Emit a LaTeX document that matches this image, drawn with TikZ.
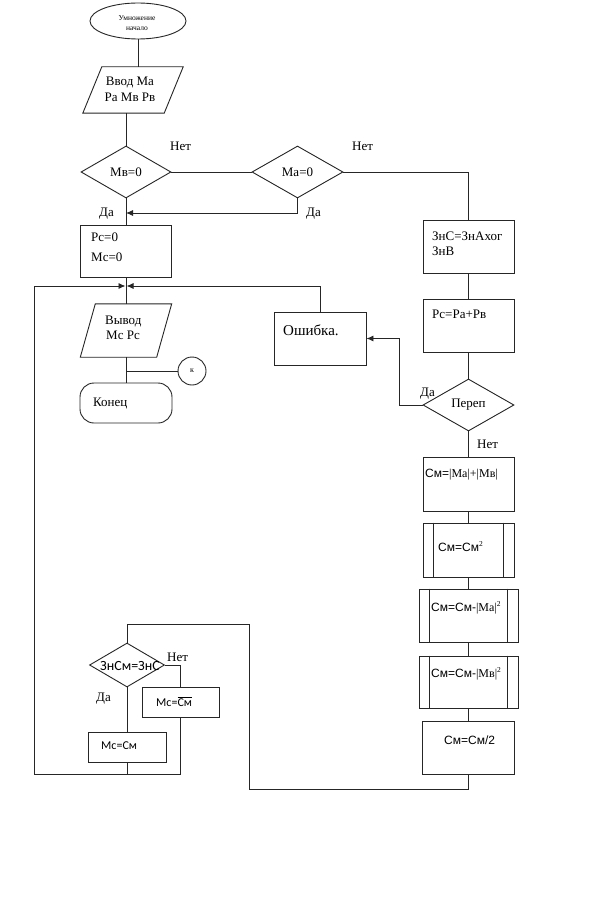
\documentclass[tikz,border=0pt]{standalone}
\usepackage{fontspec}
\setmainfont{Liberation Serif}
\newfontfamily\arialf{Liberation Sans}
\newfontfamily\calib{Carlito}
\usetikzlibrary{shapes.geometric,arrows.meta,calc}
\begin{document}
\begin{tikzpicture}[x=1pt,y=-1pt,
  ln/.style={draw=black!85,line width=0.9pt},
  arr/.style={ln,-{Latex[length=7pt,width=6pt]}},
  blk/.style={rectangle,ln,inner sep=0pt},
  hlp/.style={rectangle,inner sep=0pt},
  dec/.style={diamond,ln,inner sep=0pt,font=\fontsize{13}{15}\selectfont},
  txt/.style={inner sep=0pt,anchor=base west,font=\fontsize{13}{15}\selectfont},
  ctx/.style={inner sep=0pt,anchor=base,font=\fontsize{13}{15}\selectfont},
  atx/.style={inner sep=0pt,anchor=base west,font=\arialf\fontsize{12}{14}\selectfont},
  ctxs/.style={inner sep=0pt,anchor=base west,font=\calib\fontsize{12}{13}\selectfont}
]
\useasboundingbox[fill=white] (0,0) rectangle (593,912);

% start ellipse
\node[ellipse,ln,minimum width=96,minimum height=36,inner sep=0pt] (start) at (138,21) {};
\node[inner sep=0pt,align=center,font=\fontsize{7.5}{10}\selectfont] (startt) at (137,23) {Умножение\\начало};

% input parallelogram
\node[hlp,minimum width=100,minimum height=46] (inp) at (133,90) {};
\draw[ln] (inp.south west) -- ([xshift=19pt]inp.north west) -- (inp.north east) -- ([xshift=-19pt]inp.south east) -- cycle;
\node[ctx] (inpt1) at (130,86) {Ввод Ма};
\node[ctx] (inpt2) at (130,102) {Ра Мв Рв};

% decisions
\node[dec,minimum width=90,minimum height=52] (d1) at (126,172) {Мв=0};
\node[dec,minimum width=91,minimum height=52] (d2) at (297.5,172) {Ма=0};
\node[txt] (n1) at (170,151) {Нет};
\node[txt] (n2) at (352,151) {Нет};
\node[txt] (y1) at (99,216) {Да};
\node[txt] (y2) at (306,216) {Да};

% Pc=0 box
\node[blk,minimum width=91,minimum height=52] (r0) at (126,251) {};
\node[txt] (r0a) at (91,241) {Рс=0};
\node[txt] (r0b) at (91,261) {Мс=0};

% output parallelogram
\node[hlp,minimum width=91,minimum height=53] (out) at (126,330.5) {};
\draw[ln] (out.south west) -- ([xshift=15pt]out.north west) -- (out.north east) -- ([xshift=-15pt]out.south east) -- cycle;
\node[txt] (outa) at (105,324) {Вывод};
\node[txt] (outb) at (106,339) {Мс Рс};

% circle k and end
\node[circle,ln,minimum size=28,inner sep=0pt,font=\fontsize{8}{9}\selectfont] (k) at (192,371) {к};
\node[blk,rounded corners=14pt,minimum width=92,minimum height=40] (kon) at (126,403) {};
\node[txt] (kont) at (93,406) {Конец};

% error box
\node[blk,minimum width=92,minimum height=53] (err) at (320,338.5) {};
\node[txt,font=\fontsize{15}{17}\selectfont] (errt) at (283,335) {Ошибка.};

% right column
\node[blk,minimum width=91,minimum height=53] (zn) at (468.5,246.5) {};
\node[txt] (zna) at (432,240) {ЗнС=ЗнАхог};
\node[txt] (znb) at (432,255) {ЗнВ};
\node[blk,minimum width=91,minimum height=53] (pc) at (468.5,325.5) {};
\node[txt] (pct) at (432,318) {Рс=Ра+Рв};
\node[dec,minimum width=91,minimum height=52] (d3) at (468.5,405) {Переп};
\node[txt] (y3) at (420,396) {Да};
\node[txt] (n3) at (477,448) {Нет};

\node[blk,minimum width=91,minimum height=54] (c1) at (468.5,484) {};
\node[atx] (c1t) at (425,477) {См={\rmfamily|Ма|+|Мв|}};
\node[blk,minimum width=91,minimum height=54] (c2) at (468.5,550) {};
\node[atx] (c2t) at (438,551) {См=См\raisebox{5pt}{\rmfamily\fontsize{7.5}{8}\selectfont 2}};
\node[blk,minimum width=99,minimum height=53] (c3) at (468.5,615.5) {};
\node[atx] (c3t) at (431,611) {См=См-{\rmfamily|Ма|\raisebox{5pt}{\fontsize{7.5}{8}\selectfont 2}}};
\node[blk,minimum width=99,minimum height=52] (c4) at (468.5,682) {};
\node[atx] (c4t) at (431,677) {См=См-{\rmfamily|Мв|\raisebox{5pt}{\fontsize{7.5}{8}\selectfont 2}}};
\node[blk,minimum width=92,minimum height=53] (c5) at (468.5,747.5) {};
\node[atx] (c5t) at (444,744) {См=См/2};
\foreach \c in {c2,c3,c4}{
  \draw[ln] ([xshift=11pt]\c.north west) -- ([xshift=11pt]\c.south west);
  \draw[ln] ([xshift=-11pt]\c.north east) -- ([xshift=-11pt]\c.south east);
}

% bottom-left block
\node[dec,minimum width=75,minimum height=44] (d4) at (127,665) {};
\node[ctxs,font=\calib\fontsize{14}{15}\selectfont] (d4t) at (100,670) {ЗнСм=ЗнС};
\node[txt] (n4) at (167,661) {Нет};
\node[txt] (y4) at (96,701) {Да};
\node[blk,minimum width=77,minimum height=30] (mcb) at (180.5,702) {};
\node[ctxs] (mcbt) at (156,706) {Мс=$\overline{\hbox{\calib\fontsize{12}{13}\selectfont См}}$};
\node[blk,minimum width=78,minimum height=30] (mcs) at (127,747) {};
\node[ctxs] (mcst) at (101,749) {Мс=См};

% connectors
\coordinate (j1) at (126,213);
\coordinate (j2) at (126,286);
\coordinate (j3) at (127,774);
\coordinate (l0) at (34,774);
\coordinate (l1) at (249,789);
\coordinate (l2) at (249,624);

\draw[ln] (start.south) -- (start.south |- inp.north);
\draw[ln] (d1.north |- inp.south) -- (d1.north);
\draw[ln] (d1.east) -- (d2.west);
\draw[ln] (d2.east) -| (zn.north);
\draw[arr] (d2.south) |- (j1);
\draw[ln] (d1.south) -- (r0.north);
\draw[ln] (r0.south) -- (out.north);
\draw[arr] (err.north) |- ([xshift=0.5pt]j2);
\draw[arr] (mcs.south) -- (j3) -- (l0) |- ([xshift=-0.5pt]j2);
\draw[ln] (mcb.south) |- (j3);
\draw[ln] (out.south) -- (kon.north);
\draw[ln] (k.west -| out.south) -- (k.west);
\draw[ln] (zn.south) -- (pc.north);
\draw[ln] (pc.south) -- (d3.north);
\draw[arr] (d3.west) -- ++(-23,0) |- (err.east);
\draw[ln] (d3.south) -- (c1.north);
\draw[ln] (c1.south) -- (c2.north);
\draw[ln] (c2.south) -- (c3.north);
\draw[ln] (c3.south) -- (c4.north);
\draw[ln] (c4.south) -- (c5.north);
\draw[ln] (c5.south) |- (l1) -- (l2) -| (d4.north);
\draw[ln] (d4.east) -| (mcb.north);
\draw[ln] (d4.south) -- (mcs.north);
\end{tikzpicture}
\end{document}
